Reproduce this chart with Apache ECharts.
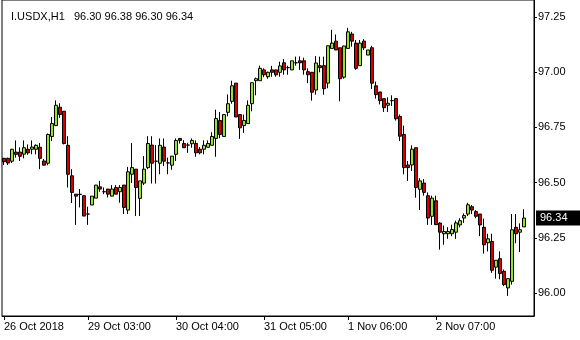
<!DOCTYPE html>
<html>
<head>
<meta charset="utf-8">
<script src="https://cdn.jsdelivr.net/npm/echarts@6/dist/echarts.min.js"></script>
<style>html,body{margin:0;padding:0;background:#fff}#c{width:580px;height:340px}</style>
</head>
<body>
<div id="c"></div>
<script>
const symbolName = 'I.USDX,H1';
const opens = [96.610,96.610,96.597,96.638,96.638,96.629,96.651,96.651,96.651,96.660,96.598,96.588,96.709,96.758,96.841,96.823,96.669,96.531,96.448,96.448,
96.441,96.358,96.399,96.430,96.481,96.459,96.471,96.439,96.478,96.459,96.489,96.376,96.538,96.561,96.429,96.498,96.568,96.670,96.597,96.588,
96.661,96.589,96.579,96.628,96.700,96.677,96.670,96.676,96.677,96.651,96.651,96.660,96.669,96.700,96.781,96.709,96.818,96.868,96.950,96.808,
96.758,96.767,96.857,96.961,96.961,97.010,96.979,97.010,97.010,96.999,97.042,97.020,97.010,97.042,97.051,97.051,97.002,96.999,96.919,97.029,
97.029,96.950,97.107,97.140,97.110,96.977,97.107,97.172,97.131,97.029,97.140,97.077,97.110,96.938,96.910,96.880,96.850,96.871,96.880,96.799,
96.718,96.580,96.580,96.658,96.470,96.498,96.441,96.348,96.418,96.317,96.269,96.269,96.269,96.276,96.309,96.340,96.358,96.391,96.369,96.358,
96.298,96.228,96.234,96.118,96.156,96.099,96.024,96.054,96.298,96.276,96.30];
const closes = [96.595,96.589,96.651,96.628,96.619,96.658,96.635,96.661,96.669,96.610,96.579,96.718,96.767,96.850,96.808,96.677,96.538,96.456,96.439,96.446,
96.349,96.358,96.439,96.489,96.471,96.459,96.448,96.471,96.448,96.478,96.388,96.549,96.568,96.478,96.508,96.561,96.677,96.588,96.597,96.669,
96.597,96.589,96.620,96.691,96.691,96.658,96.670,96.691,96.635,96.635,96.669,96.677,96.709,96.790,96.718,96.808,96.857,96.938,96.797,96.748,
96.781,96.850,96.952,96.970,97.017,96.988,96.999,96.999,96.988,97.028,97.010,97.020,97.051,97.042,97.042,97.010,96.988,96.909,97.041,97.020,
96.925,97.119,97.131,97.100,96.970,97.118,97.182,97.140,97.017,97.131,97.110,97.100,96.950,96.898,96.871,96.839,96.859,96.871,96.789,96.710,
96.568,96.568,96.651,96.478,96.508,96.456,96.340,96.430,96.310,96.276,96.279,96.279,96.288,96.318,96.328,96.351,96.400,96.376,96.348,96.309,
96.219,96.246,96.104,96.149,96.089,96.039,96.066,96.287,96.269,96.287,96.34];
const lows = [96.580,96.580,96.589,96.613,96.598,96.610,96.626,96.628,96.628,96.561,96.579,96.579,96.688,96.758,96.793,96.673,96.478,96.408,96.309,96.388,
96.349,96.309,96.399,96.430,96.459,96.448,96.433,96.439,96.448,96.409,96.358,96.358,96.498,96.349,96.349,96.489,96.561,96.496,96.496,96.538,
96.575,96.538,96.558,96.598,96.677,96.658,96.635,96.658,96.617,96.628,96.628,96.660,96.669,96.617,96.701,96.709,96.800,96.857,96.797,96.698,
96.725,96.767,96.823,96.895,96.961,96.977,96.970,96.979,96.979,96.979,96.988,96.988,97.010,97.029,97.010,96.988,96.950,96.871,96.898,96.999,
96.898,96.927,97.107,97.100,96.868,96.970,97.107,97.115,97.010,97.029,97.100,97.077,96.924,96.880,96.854,96.820,96.820,96.847,96.781,96.688,
96.538,96.508,96.553,96.432,96.376,96.441,96.309,96.309,96.309,96.197,96.219,96.246,96.258,96.246,96.298,96.318,96.349,96.358,96.339,96.258,
96.179,96.189,96.092,96.066,96.063,96.032,95.988,96.039,96.226,96.186,96.30];
const highs = [96.612,96.613,96.653,96.691,96.660,96.691,96.673,96.691,96.673,96.679,96.607,96.722,96.797,96.872,96.859,96.823,96.710,96.561,96.448,96.471,
96.441,96.391,96.439,96.489,96.508,96.478,96.471,96.489,96.489,96.489,96.489,96.571,96.679,96.561,96.508,96.620,96.710,96.710,96.670,96.700,
96.700,96.613,96.620,96.700,96.700,96.692,96.680,96.700,96.691,96.661,96.691,96.691,96.728,96.830,96.820,96.808,96.899,96.961,96.950,96.808,
96.808,96.872,96.952,96.975,97.029,97.017,97.002,97.028,97.010,97.047,97.059,97.029,97.051,97.070,97.071,97.065,97.017,96.999,97.072,97.070,
97.070,97.119,97.191,97.170,97.110,97.119,97.200,97.182,97.145,97.145,97.149,97.100,97.119,96.957,96.910,96.880,96.886,96.895,96.880,96.808,
96.758,96.598,96.669,96.658,96.520,96.516,96.456,96.441,96.441,96.321,96.306,96.299,96.310,96.328,96.339,96.361,96.409,96.399,96.376,96.358,
96.337,96.269,96.269,96.149,96.189,96.107,96.066,96.358,96.358,96.316,96.38];
const slotCount = 133;
const timeLabels = ['26 Oct 2018','29 Oct 03:00','30 Oct 04:00','31 Oct 05:00','1 Nov 06:00','2 Nov 07:00'];
const timeLabelBars = [0, 21, 43, 65, 86, 108];
const priceTicks = [96.00, 96.25, 96.50, 96.75, 97.00, 97.25];
const priceMin = 95.897, priceMax = 97.326;

const categories = Array.from({length: slotCount}, (_, i) => String(i));
const candles = opens.map((o, i) => [o, closes[i], lows[i], highs[i]]);
const last = candles.length - 1;
const fmt = v => v.toFixed(2);
const titleText = symbolName + '   ' + [opens[last], highs[last], lows[last], closes[last]].map(fmt).join(' ');
const FONT = '"Liberation Sans", Arial, sans-serif';

const chart = echarts.init(document.getElementById('c'), null, {renderer: 'canvas'});
chart.setOption({
  animation: false,
  backgroundColor: '#fff',
  title: {text: titleText, left: 6, top: 6,
    textStyle: {fontFamily: FONT, fontSize: 11, fontWeight: 'normal', color: '#000'}},
  grid: {left: 2, right: 46, top: -2, bottom: 24, show: true, borderColor: '#000', borderWidth: 1, backgroundColor: '#fff'},
  xAxis: {
    type: 'category', data: categories, boundaryGap: true,
    axisLine: {show: true, lineStyle: {color: '#000', width: 1}},
    axisTick: {show: true, alignWithLabel: true, length: 4, lineStyle: {color: '#000'},
      interval: (idx) => timeLabelBars.includes(idx)},
    axisLabel: {show: true, align: 'left', margin: 5, color: '#000', fontFamily: FONT, fontSize: 11,
      interval: (idx) => timeLabelBars.includes(idx),
      formatter: (v, idx) => { const k = timeLabelBars.indexOf(Number(v)); return k >= 0 ? timeLabels[k] : ''; }},
    splitLine: {show: false}
  },
  yAxis: {
    type: 'value', position: 'right', min: priceMin, max: priceMax, scale: true,
    axisLine: {show: true, lineStyle: {color: '#000', width: 1}},
    axisTick: {show: true, length: 3, lineStyle: {color: '#000'}, customValues: priceTicks},
    axisLabel: {show: true, color: '#000', fontFamily: FONT, fontSize: 11, margin: 4, align: 'left',
      customValues: priceTicks, formatter: v => fmt(v)},
    splitLine: {show: false}
  },
  series: [{
    type: 'candlestick',
    data: candles,
    barWidth: 3,
    clip: false,
    itemStyle: {color: '#94e32c', color0: '#d40000', borderColor: '#000', borderColor0: '#000', borderWidth: 1},
    markLine: {
      silent: true, symbol: ['none', 'none'],
      lineStyle: {width: 1, color: 'rgba(0,0,0,0)', type: 'solid'},
      data: [{yAxis: closes[last]}],
      label: {show: true, position: 'end', distance: 2, formatter: () => fmt(closes[last]),
        color: '#fff', backgroundColor: '#000', padding: [2, 14, 1, 4],
        fontFamily: FONT, fontSize: 11, lineHeight: 12}
    }
  }]
});
</script>
</body>
</html>
